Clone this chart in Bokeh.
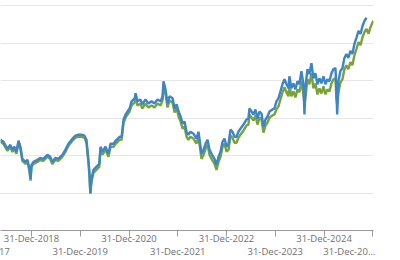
import pandas as pd
from bokeh.plotting import figure
from bokeh.models import ColumnDataSource, Range1d, FixedTicker, DatetimeAxis
from bokeh.embed import file_html
from bokeh.resources import INLINE

blue_dates = [
    "2018-05-12", "2018-06-04", "2018-07-04", "2018-07-26", "2018-08-10", "2018-08-25",
    "2018-09-09", "2018-09-25", "2018-10-09", "2018-10-24", "2018-11-16", "2018-12-01",
    "2018-12-16", "2018-12-24", "2018-12-31", "2019-01-15", "2019-02-14", "2019-03-07",
    "2019-03-30", "2019-04-29", "2019-05-21", "2019-06-05", "2019-06-28", "2019-07-20",
    "2019-08-19", "2019-09-11", "2019-10-04", "2019-11-03", "2019-11-26", "2019-12-18",
    "2020-01-10", "2020-02-01",
    "2020-02-16", "2020-03-01", "2020-03-09", "2020-03-16", "2020-03-24", "2020-04-08",
    "2020-04-30", "2020-05-22", "2020-05-31", "2020-06-15", "2020-07-07", "2020-07-30",
    "2020-08-14", "2020-09-06", "2020-09-28", "2020-10-21", "2020-11-05", "2020-11-20",
    "2020-12-05", "2020-12-20", "2021-01-04",
    "2021-01-19", "2021-02-11", "2021-02-18", "2021-03-04", "2021-03-26", "2021-04-10",
    "2021-05-03", "2021-05-25", "2021-06-17", "2021-07-09", "2021-08-01", "2021-08-24",
    "2021-09-08", "2021-09-15", "2021-09-30", "2021-10-15", "2021-10-30", "2021-11-22",
    "2021-12-07", "2021-12-22",
    "2022-01-06", "2022-01-21", "2022-02-05", "2022-02-20", "2022-03-06", "2022-03-21",
    "2022-04-05", "2022-04-28", "2022-05-20", "2022-06-04", "2022-06-27", "2022-07-12",
    "2022-07-27", "2022-08-11", "2022-08-26", "2022-09-10", "2022-10-02", "2022-10-17",
    "2022-11-01", "2022-11-16", "2022-12-01", "2022-12-16", "2022-12-31",
    "2023-01-15", "2023-01-30", "2023-02-14", "2023-03-01", "2023-03-16", "2023-03-30",
    "2023-04-14", "2023-05-07", "2023-05-29", "2023-06-13", "2023-06-21", "2023-07-06",
    "2023-07-21", "2023-08-05", "2023-08-20", "2023-09-04", "2023-09-19", "2023-10-04",
    "2023-10-19", "2023-11-03", "2023-11-18", "2023-12-10", "2023-12-25",
    "2024-01-09", "2024-01-24", "2024-02-08", "2024-02-23", "2024-03-09", "2024-03-24",
    "2024-04-08", "2024-04-15", "2024-04-30", "2024-05-15", "2024-05-30", "2024-06-14",
    "2024-06-29",
    "2024-07-14", "2024-07-29", "2024-08-06", "2024-08-13", "2024-08-28", "2024-09-12",
    "2024-09-27", "2024-10-12", "2024-10-27", "2024-11-11", "2024-11-26", "2024-12-11",
    "2024-12-26", "2025-01-10", "2025-01-25", "2025-02-09", "2025-02-24", "2025-03-11",
    "2025-03-26",
    "2025-04-02", "2025-04-08", "2025-04-17", "2025-05-02", "2025-05-17", "2025-06-01",
    "2025-06-16", "2025-07-01", "2025-07-16", "2025-07-31", "2025-08-15", "2025-08-30",
    "2025-09-15", "2025-09-30", "2025-10-15", "2025-10-30", "2025-11-14",
]

blue_values = [
    108.4, 107.3, 103.6, 105.7, 103.0, 104.7,
    102.0, 107.9, 104.7, 98.2, 96.6, 97.7,
    92.8, 87.4, 95.0, 96.6, 97.7, 98.7,
    98.2, 100.4, 99.3, 96.6, 98.7, 98.2,
    100.4, 103.0, 106.3, 109.0, 110.6, 111.1,
    111.1, 110.6,
    108.4, 98.2, 91.2, 79.9, 87.4, 92.3,
    93.9, 95.5, 104.7, 102.0, 104.7, 100.9,
    106.3, 106.3, 108.4, 110.0, 110.0, 119.2,
    121.9, 123.5, 125.1,
    128.9, 130.5, 133.2, 128.9, 129.9, 127.3,
    129.9, 127.8, 128.9, 127.8, 129.9, 128.9,
    131.6, 139.6, 135.3, 127.8, 131.6, 130.5,
    125.1, 127.3,
    123.5, 120.8, 117.0, 118.1, 112.7, 111.1,
    112.7, 111.6, 109.0, 112.7, 100.9, 103.0,
    106.3, 108.4, 103.0, 100.9, 98.2, 95.0,
    99.3, 102.0, 107.3, 109.0, 104.7,
    106.3, 113.8, 112.7, 110.0, 110.0, 112.7,
    114.3, 116.5, 119.2, 119.7, 125.1, 123.5,
    121.9, 124.6, 119.7, 123.5, 122.4, 115.4,
    119.2, 120.8, 123.5, 124.6, 125.1,
    128.9, 130.5, 134.2, 138.0, 140.7, 138.0,
    135.9, 142.3, 135.9, 138.5, 135.3, 139.6,
    138.0,
    145.0, 138.0, 121.9, 135.9, 146.1, 143.4,
    149.3, 141.2, 143.9, 138.0, 141.2, 138.5,
    142.3, 138.0, 140.7, 139.6, 143.9, 146.1,
    146.6,
    135.9, 121.9, 139.6, 145.0, 146.6, 152.0,
    154.2, 152.0, 155.8, 154.2, 159.5, 162.8,
    166.5, 164.9, 169.2, 171.9, 173.5,
]

green_dates = blue_dates + ["2025-11-29", "2025-12-14", "2026-01-04"]

green_values = [
    107.3, 106.2, 102.5, 104.6, 101.9, 103.6,
    100.9, 106.8, 103.6, 97.1, 95.5, 96.6,
    91.7, 86.6, 93.9, 95.5, 96.6, 97.6,
    97.1, 99.3, 98.2, 95.5, 97.6, 97.1,
    99.3, 101.9, 105.2, 107.9, 109.5, 110.0,
    110.0, 109.5,
    106.8, 96.6, 89.6, 79.6, 85.8, 90.7,
    92.3, 93.9, 103.1, 100.4, 103.1, 99.3,
    104.7, 104.7, 106.8, 108.4, 108.4, 117.6,
    120.3, 121.9, 123.5,
    126.7, 128.3, 131.0, 126.7, 127.7, 125.1,
    127.7, 125.6, 126.7, 125.6, 127.7, 126.7,
    129.4, 136.4, 133.1, 125.6, 129.4, 128.3,
    122.9, 125.1,
    120.8, 118.1, 114.3, 115.4, 110.0, 108.4,
    110.0, 108.9, 106.3, 110.0, 98.2, 100.3,
    103.6, 105.7, 100.3, 98.2, 95.5, 92.3,
    96.6, 99.3, 104.6, 106.3, 102.0,
    103.1, 110.6, 109.5, 106.8, 106.8, 109.5,
    111.1, 113.3, 116.0, 116.5, 121.9, 120.3,
    118.7, 121.4, 116.5, 120.3, 119.2, 112.2,
    116.0, 117.6, 120.3, 121.4, 121.9,
    124.6, 126.2, 129.9, 133.7, 136.4, 133.7,
    131.6, 138.0, 131.6, 134.2, 131.0, 135.3,
    133.7,
    139.6, 132.6, 127.5, 130.5, 140.7, 138.0,
    143.9, 135.8, 138.5, 132.6, 135.8, 133.1,
    136.9, 132.6, 135.3, 134.2, 138.5, 140.7,
    141.2,
    130.5, 127.0, 133.6, 139.0, 140.6, 146.0,
    148.2, 146.0, 149.8, 148.2, 153.5, 156.8,
    160.5, 158.9, 163.2, 165.9, 167.5,
    165.0, 168.6, 171.9,
]

grid_values = [80, 100, 120, 140, 160, 180]

# tick marks (one per year end) and the two staggered label rows
tick_dates = ["2018-12-31", "2019-12-31", "2020-12-31", "2021-12-31",
              "2022-12-31", "2023-12-31", "2024-12-31", "2025-12-31"]
top_label_dates = ["2018-12-31", "2020-12-31", "2022-12-31", "2024-12-31"]
top_labels = ["31-Dec-2018", "31-Dec-2020", "31-Dec-2022", "31-Dec-2024"]
bottom_label_dates = ["2017-12-31", "2019-12-31", "2021-12-31", "2023-12-31", "2025-12-31"]
bottom_labels = ["31-Dec-2017", "31-Dec-2019", "31-Dec-2021", "31-Dec-2023", "31-Dec-20\u2026"]

BLUE = "#3b86c6"
GREEN = "#79a23a"
LABEL_COLOR = "#707070"
FONT = "Open Sans"
FSIZE = "9.5px"

X_START = "2018-05-13"
X_END = "2026-01-05"


def ms(d):
    return int(pd.Timestamp(d).value // 10**6)


src_b = ColumnDataSource(dict(x=pd.to_datetime(blue_dates), y=blue_values))
src_g = ColumnDataSource(dict(x=pd.to_datetime(green_dates), y=green_values))

p = figure(width=400, height=260, x_axis_type="datetime",
           x_axis_location=None, y_axis_location=None,
           x_range=Range1d(ms(X_START), ms(X_END)),
           y_range=Range1d(60, 182.7),
           output_backend="svg", toolbar_location=None,
           min_border_left=0, min_border_right=27, min_border_top=0, min_border_bottom=0)
p.outline_line_color = None
p.background_fill_color = "white"
p.border_fill_color = "white"
p.xgrid.visible = False
p.ygrid.ticker = FixedTicker(ticks=grid_values)
p.ygrid.grid_line_color = "#e6e6e6"
p.ygrid.grid_line_width = 1

p.line("x", "y", source=src_g, line_color=GREEN, line_width=2.4)
p.line("x", "y", source=src_b, line_color=BLUE, line_width=2.4)

# first row: tick marks + centred labels
tick_ms = [ms(d) for d in tick_dates]
top_over = {t: "" for t in tick_ms}
for d, lab in zip(top_label_dates, top_labels):
    top_over[ms(d)] = lab

ax1 = DatetimeAxis(ticker=FixedTicker(ticks=tick_ms), major_label_overrides=top_over,
                   major_tick_out=6, major_tick_in=0, minor_tick_out=0, minor_tick_in=0,
                   axis_line_color="#9a9a9a", major_tick_line_color="#9a9a9a",
                   major_label_text_font=FONT, major_label_text_font_size=FSIZE,
                   major_label_text_color=LABEL_COLOR, major_label_standoff=-5)
p.add_layout(ax1, "below")

# second row (labels only).  The reference clips the first label at the left edge
# and truncates the last one so it ends at the plot's right edge.
x0 = pd.Timestamp(X_START)
x1 = pd.Timestamp(X_END)
guard_lo = ms(x0 + pd.Timedelta(hours=6))
guard_hi = ms(x1 - pd.Timedelta(hours=6))
first_anchor = ms(x0 + pd.Timedelta(days=1))            # label centre at the left edge,
first_text = bottom_labels[0] + "\u00a0" * 15            # padded so the text spills off-canvas
mid_anchors = [ms(d) for d in bottom_label_dates[1:-1]]  # centred on their dates
last_anchor = ms(pd.Timestamp(bottom_label_dates[-1]) - pd.Timedelta(days=176))

bot_ticks = [guard_lo, first_anchor] + mid_anchors + [last_anchor, guard_hi]
bot_over = {guard_lo: " ", first_anchor: first_text, last_anchor: bottom_labels[-1],
            guard_hi: " "}
for t, lab in zip(mid_anchors, bottom_labels[1:-1]):
    bot_over[t] = lab

ax2 = DatetimeAxis(ticker=FixedTicker(ticks=bot_ticks), major_label_overrides=bot_over,
                   major_tick_out=0, major_tick_in=0, minor_tick_out=0, minor_tick_in=0,
                   axis_line_color=None, major_tick_line_color=None,
                   major_label_text_font=FONT, major_label_text_font_size=FSIZE,
                   major_label_text_color=LABEL_COLOR, major_label_standoff=-3)
p.add_layout(ax2, "below")

open("out.html", "w").write(file_html(p, INLINE))
